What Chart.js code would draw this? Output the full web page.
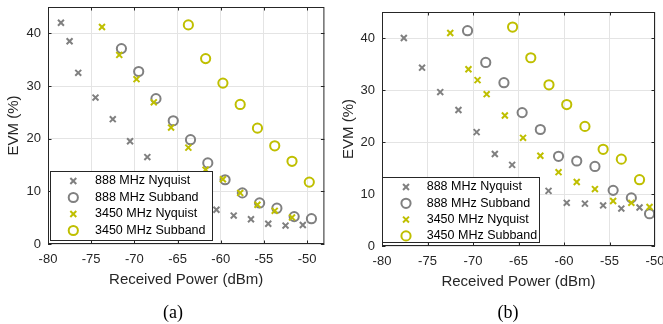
<!DOCTYPE html>
<html><head><meta charset="utf-8">
<script src="https://cdn.jsdelivr.net/npm/chart.js@4.4.1/dist/chart.umd.min.js"></script>
<style>
html,body{margin:0;padding:0;background:#fff;overflow:hidden;width:663px;height:324px;}
#c1{position:absolute;left:0;top:0;width:331px;height:324px;}
#c2{position:absolute;left:330px;top:0;width:345px;height:324px;}
.cap{position:absolute;top:301px;font-family:"Liberation Serif","Times New Roman",serif;font-size:18px;color:#000;transform:translateX(-50%);line-height:22px;}
</style></head><body>
<canvas id="c1" width="331" height="324"></canvas>
<canvas id="c2" width="345" height="324"></canvas>
<div class="cap" style="left:173px">(a)</div>
<div class="cap" style="left:508px">(b)</div>
<script>
// ---- data ----
const seriesNames = ['888 MHz Nyquist', '888 MHz Subband', '3450 MHz Nyquist', '3450 MHz Subband'];
const xTicks = [-80, -75, -70, -65, -60, -55, -50];
const yTicks = [0, 10, 20, 30, 40];

// (a)
const a888NyqX = [-78.5,-77.5,-76.5,-74.5,-72.5,-70.5,-68.5,-66.5,-64.5,-62.5,-60.5,-58.5,-56.5,-54.5,-52.5,-50.5];
const a888NyqY = [42.0,38.5,32.5,27.8,23.7,19.5,16.5,12.5,10.0,8.0,6.5,5.4,4.7,3.85,3.5,3.6];
const a888SubX = [-71.5,-69.5,-67.5,-65.5,-63.5,-61.5,-59.5,-57.5,-55.5,-53.5,-51.5,-49.5];
const a888SubY = [37.1,32.75,27.6,23.4,19.8,15.4,12.2,9.7,7.8,6.8,5.2,4.8];
const a3450NyqX = [-73.75,-71.75,-69.75,-67.75,-65.75,-63.75,-61.75,-59.75,-57.75,-55.75,-53.75,-51.75];
const a3450NyqY = [41.2,35.9,31.3,26.9,22.1,18.3,14.1,12.3,9.7,7.45,6.3,5.05];
const a3450SubX = [-63.75,-61.75,-59.75,-57.75,-55.75,-53.75,-51.75,-49.75];
const a3450SubY = [41.6,35.2,30.55,26.5,22.0,18.65,15.7,11.75];

// (b)
const b888NyqX = [-77.6,-75.6,-73.6,-71.6,-69.6,-67.6,-65.7,-63.7,-61.7,-59.7,-57.7,-55.7,-53.7,-51.7];
const b888NyqY = [40.0,34.3,29.6,26.15,21.9,17.7,15.6,12.5,10.6,8.3,8.15,7.8,7.2,7.4];
const b888SubX = [-70.6,-68.6,-66.6,-64.6,-62.6,-60.6,-58.6,-56.6,-54.6,-52.6,-50.6];
const b888SubY = [41.4,35.3,31.4,25.65,22.4,17.25,16.35,15.3,10.7,9.25,6.2];
const b3450NyqX = [-72.5,-70.5,-69.5,-68.5,-66.5,-64.5,-62.6,-60.6,-58.6,-56.6,-54.6,-52.6,-50.6];
const b3450NyqY = [40.96,34.0,31.9,29.2,25.1,20.8,17.35,14.2,12.3,10.95,8.65,8.3,7.5];
const b3450SubX = [-65.65,-63.65,-61.65,-59.7,-57.7,-55.7,-53.7,-51.7];
const b3450SubY = [42.1,36.2,31.0,27.2,23.0,18.6,16.7,12.75];

// ---- styles ----
const GRAY = '#808080';
const YEL = '#bfbf00';
const AXC = '#262626';
const FONT = '"Liberation Sans", Arial, Helvetica, sans-serif';
const styles = [
  {style:'crossRot', color:GRAY, r:4.2},
  {style:'circle', color:GRAY, r:4.6},
  {style:'crossRot', color:YEL, r:4.2},
  {style:'circle', color:YEL, r:4.6}
];

function pts(xs, ys) { return xs.map((x, i) => ({x: x, y: ys[i]})); }

function drawMarker(ctx, s, cx, cy) {
  ctx.save();
  ctx.strokeStyle = s.color; ctx.lineWidth = 2;
  ctx.beginPath();
  if (s.style === 'circle') {
    ctx.arc(cx, cy, s.r, 0, Math.PI * 2);
  } else {
    const d = s.r * Math.SQRT1_2;
    ctx.moveTo(cx - d, cy - d); ctx.lineTo(cx + d, cy + d);
    ctx.moveTo(cx - d, cy + d); ctx.lineTo(cx + d, cy - d);
  }
  ctx.stroke();
  ctx.restore();
}

const framePlugin = {
  id: 'frame',
  afterDatasetsDraw(chart, args, o) {
    const ctx = chart.ctx, a = chart.chartArea;
    const xs = chart.scales.x, ys = chart.scales.y;
    ctx.save();
    ctx.strokeStyle = AXC; ctx.lineWidth = 1;
    ctx.beginPath();
    const L = 3.5;
    xTicks.forEach(v => {
      const p = Math.round(xs.getPixelForValue(v)) + 0.5;
      if (p < a.left || p > a.right) return;
      ctx.moveTo(p, a.bottom); ctx.lineTo(p, a.bottom - L);
      ctx.moveTo(p, a.top); ctx.lineTo(p, a.top + L);
    });
    yTicks.forEach(v => {
      const p = Math.round(ys.getPixelForValue(v)) + 0.5;
      ctx.moveTo(a.left, p); ctx.lineTo(a.left + L, p);
      ctx.moveTo(a.right, p); ctx.lineTo(a.right - L, p);
    });
    ctx.stroke();
    ctx.strokeRect(a.left + 0.5, a.top + 0.5, a.right - a.left - 1, a.bottom - a.top - 1);
    // legend box
    const g = o.legend;
    ctx.fillStyle = '#fff';
    ctx.fillRect(g.x, g.y, g.w, g.h);
    ctx.strokeStyle = AXC;
    ctx.strokeRect(g.x + 0.5, g.y + 0.5, g.w - 1, g.h - 1);
    ctx.font = '12.5px ' + FONT;
    ctx.fillStyle = '#000';
    ctx.textBaseline = 'middle';
    ctx.textAlign = 'left';
    seriesNames.forEach((n, i) => {
      const cy = g.rows[i];
      drawMarker(ctx, styles[i], g.mx, cy);
      ctx.fillText(n, g.tx, cy);
    });
    ctx.restore();
  }
};

function makeChart(id, cw, ch, area, xMax, data, legend, ytPad, xtPad) {
  const datasets = data.map((d, i) => ({
    label: seriesNames[i],
    data: d,
    pointStyle: styles[i].style,
    pointRadius: styles[i].r,
    pointHoverRadius: styles[i].r,
    pointBorderWidth: 2,
    pointBorderColor: styles[i].color,
    pointBackgroundColor: 'rgba(0,0,0,0)',
    borderColor: styles[i].color,
    backgroundColor: 'rgba(0,0,0,0)',
    showLine: false,
    order: 4 - i
  }));
  return new Chart(document.getElementById(id), {
    type: 'scatter',
    data: {datasets: datasets},
    plugins: [framePlugin],
    options: {
      responsive: false,
      animation: false,
      events: [],
      layout: {padding: {left: 0, top: area.top, right: cw - area.right, bottom: 0}},
      plugins: {legend: {display: false}, tooltip: {enabled: false}, frame: {legend: legend}},
      scales: {
        x: {
          type: 'linear', min: -80, max: xMax,
          afterBuildTicks: s => { s.ticks = xTicks.map(v => ({value: v})); },
          afterFit: s => { s.height = ch - area.bottom; s.paddingLeft = 0; s.paddingRight = 0; },
          grid: {color: '#e4e4e4', lineWidth: 1, drawTicks: false},
          border: {display: false},
          ticks: {padding: xtPad, color: AXC, font: {family: FONT, size: 13}, maxRotation: 0, autoSkip: false, callback: v => String(v)},
          title: {display: true, text: 'Received Power (dBm)', color: AXC, font: {family: FONT, size: 15}, padding: {top: 0, bottom: area.xtb}}
        },
        y: {
          type: 'linear', min: 0, max: 45,
          afterBuildTicks: s => { s.ticks = yTicks.map(v => ({value: v})); },
          afterFit: s => { s.width = area.left; s.paddingTop = 0; s.paddingBottom = 0; },
          grid: {color: '#e4e4e4', lineWidth: 1, drawTicks: false},
          border: {display: false},
          ticks: {padding: ytPad, color: AXC, font: {family: FONT, size: 13}, autoSkip: false, callback: v => String(v)},
          title: {display: true, text: 'EVM (%)', color: AXC, font: {family: FONT, size: 15}, padding: {top: area.ytt, bottom: 0}}
        }
      }
    }
  });
}

makeChart('c1', 331, 324,
  {left: 48, right: 329, top: 7, bottom: 244, xtb: 35, ytt: 5},
  -48,
  [pts(a888NyqX, a888NyqY), pts(a888SubX, a888SubY), pts(a3450NyqX, a3450NyqY), pts(a3450SubX, a3450SubY)],
  {x: 50, y: 171, w: 163, h: 70, mx: 73.3, tx: 95, rows: [181, 197.5, 214, 230.5]},
  7, 8);

makeChart('c2', 345, 324,
  {left: 52, right: 325, top: 12, bottom: 246, xtb: 33, ytt: 9.5},
  -50,
  [pts(b888NyqX, b888NyqY), pts(b888SubX, b888SubY), pts(b3450NyqX, b3450NyqY), pts(b3450SubX, b3450SubY)],
  {x: 52, y: 177, w: 158, h: 66, mx: 76, tx: 96.7, rows: [187, 203.3, 219.6, 235.9]},
  7, 8);
</script></body></html>
